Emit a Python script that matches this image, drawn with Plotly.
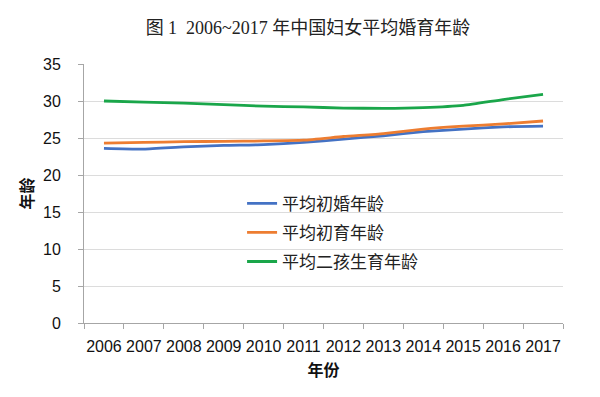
import plotly.graph_objects as go

years = ["2006", "2007", "2008", "2009", "2010", "2011", "2012", "2013", "2014", "2015", "2016", "2017"]
first_marriage = [23.6, 23.5, 23.8, 24.0, 24.1, 24.4, 24.85, 25.3, 25.85, 26.2, 26.5, 26.6]
first_birth = [24.3, 24.4, 24.5, 24.55, 24.6, 24.7, 25.2, 25.6, 26.2, 26.6, 26.9, 27.3]
second_birth = [30.0, 29.85, 29.7, 29.5, 29.3, 29.2, 29.05, 29.0, 29.1, 29.4, 30.2, 30.9]

series_names = ["平均初婚年龄", "平均初育年龄", "平均二孩生育年龄"]
colors = ["#4472C4", "#ED7D31", "#1AA64A"]

fig = go.Figure()
for i, (name, vals, c) in enumerate(zip(series_names, [first_marriage, first_birth, second_birth], colors)):
    fig.add_trace(go.Scatter(
        x=years, y=vals, name=name, mode="lines", legendgroup=f"g{i}",
        line=dict(color=c, width=2.8, shape="spline", smoothing=0.5),
    ))

font_cjk = "Liberation Sans, Noto Sans CJK SC, sans-serif"

fig.update_layout(
    width=600, height=397,
    margin=dict(l=76, r=45, t=56, b=82),
    paper_bgcolor="white", plot_bgcolor="white",
    title=dict(
        text="图 1  2006~2017 年中国妇女平均婚育年龄",
        x=0.5, xanchor="center", y=0.95, yanchor="middle",
        font=dict(family="Liberation Serif, Noto Sans CJK SC, serif", size=18, color="#222"),
    ),
    font=dict(family=font_cjk, color="#222"),
    legend=dict(
        x=0.33, y=0.53, xanchor="left", yanchor="top",
        bgcolor="rgba(0,0,0,0)",
        font=dict(size=17, family=font_cjk, color="#222"),
        tracegroupgap=4,
    ),
    xaxis=dict(
        type="category",
        range=[-0.5, 11.5],
        tickson="boundaries",
        tickangle=0,
        automargin=False,
        ticks="outside", ticklen=5, tickcolor="#a6a6a6",
        ticklabelstandoff=9,
        showline=True, linecolor="#a6a6a6", linewidth=1,
        showgrid=False,
        tickfont=dict(size=16, family=font_cjk, color="#111"),
        title=dict(text="<b>年份</b>", font=dict(size=16, family=font_cjk, color="#111"), standoff=10),
    ),
    yaxis=dict(
        range=[0, 35], dtick=5,
        automargin=False,
        ticks="outside", ticklen=5, tickcolor="#a6a6a6",
        ticklabelstandoff=14,
        showline=True, linecolor="#a6a6a6", linewidth=1,
        showgrid=True, gridcolor="#dcdcdc", gridwidth=1,
        zeroline=False,
        tickfont=dict(size=16, family=font_cjk, color="#111"),
        title=dict(text="<b>年龄</b>", font=dict(size=16, family=font_cjk, color="#111"), standoff=5),
    ),
)

fig.write_html("out.html")
